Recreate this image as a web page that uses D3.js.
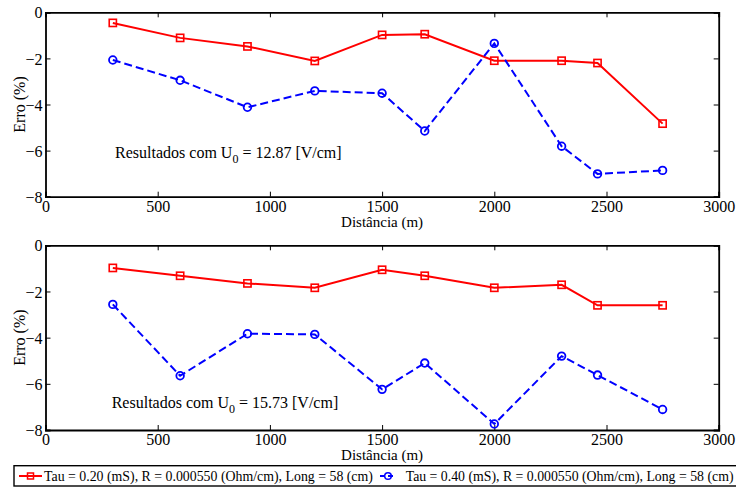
<!DOCTYPE html>
<html>
<head>
<meta charset="utf-8">
<script src="https://cdn.jsdelivr.net/npm/d3@7"></script>
<style>
  html, body { margin: 0; padding: 0; background: #fff; }
  svg, svg text { font-family: "Liberation Serif", "Times New Roman", Times, "DejaVu Serif", serif; }
</style>
</head>
<body>
<svg id="chart" width="736" height="488"></svg>
<script>
// Distances along the line (m)
const distances = [300, 600, 900, 1200, 1500, 1690, 2000, 2300, 2460, 2750];

// Error (%) for U0 = 12.87 V/cm
const errTau020_u1 = [-0.46, -1.11, -1.48, -2.11, -0.98, -0.95, -2.10, -2.10, -2.20, -4.83];
const errTau040_u1 = [-2.07, -2.95, -4.12, -3.41, -3.51, -5.15, -1.35, -5.81, -7.01, -6.86];

// Error (%) for U0 = 15.73 V/cm
const errTau020_u2 = [-0.98, -1.32, -1.65, -1.84, -1.06, -1.32, -1.84, -1.71, -2.60, -2.60];
const errTau040_u2 = [-2.56, -5.65, -3.83, -3.86, -6.24, -5.10, -7.74, -4.80, -5.62, -7.11];

const xTicks = [0, 500, 1000, 1500, 2000, 2500, 3000];
const yTicks = [0, -2, -4, -6, -8];

const panelNotes = ["12.87", "15.73"];
const seriesNames = [
  "Tau = 0.20 (mS), R = 0.000550 (Ohm/cm), Long = 58 (cm)",
  "Tau = 0.40 (mS), R = 0.000550 (Ohm/cm), Long = 58 (cm)"
];

const RED = "#ff0000", BLUE = "#0000ff";
const FONT = "'Liberation Serif', 'Times New Roman', Times, 'DejaVu Serif', serif";
const svg = d3.select("#chart");

const left = 45.5, right = 718.7;
// panel frames; the note anchor is given in data units of each panel
const panels = [
  { top: 12.3, bottom: 196.7, red: errTau020_u1, blue: errTau040_u1, note: panelNotes[0], noteAt: [310, -6.33] },
  { top: 245.3, bottom: 430, red: errTau020_u2, blue: errTau040_u2, note: panelNotes[1], noteAt: [295, -7.06] }
];

const x = d3.scaleLinear().domain([0, 3000]).range([left, right]);

function drawPanel(p) {
  const y = d3.scaleLinear().domain([-8, 0]).range([p.bottom, p.top]);
  const g = svg.append("g").style("font-family", FONT);
  const tickLen = 5;

  // bottom axis (labels) and top axis (inward ticks only)
  const xb = g.append("g").attr("transform", `translate(0,${p.bottom})`)
    .call(d3.axisBottom(x).tickValues(xTicks).tickSize(-tickLen).tickPadding(4).tickFormat(d3.format("d")));
  const xt = g.append("g").attr("transform", `translate(0,${p.top})`)
    .call(d3.axisTop(x).tickValues(xTicks).tickSize(-tickLen).tickFormat(""));
  const yl = g.append("g").attr("transform", `translate(${left},0)`)
    .call(d3.axisLeft(y).tickValues(yTicks).tickSize(-tickLen).tickPadding(3).tickFormat(d3.format("d")));
  const yr = g.append("g").attr("transform", `translate(${right},0)`)
    .call(d3.axisRight(y).tickValues(yTicks).tickSize(-tickLen).tickFormat(""));

  [xb, xt, yl, yr].forEach(a => {
    a.attr("font-family", null);
    a.select(".domain").attr("stroke", "#000").attr("stroke-width", 1.8);
    a.selectAll(".tick line").attr("stroke", "#000").attr("stroke-width", 1);
    a.selectAll(".tick text").attr("fill", "#000")
      .style("font-family", FONT).style("font-size", "16px");
  });
  yl.selectAll(".tick text").attr("dy", "0.35em");

  // axis titles
  g.append("text")
    .attr("x", (left + right) / 2).attr("y", p.bottom + 30)
    .attr("text-anchor", "middle").style("font-size", "15px")
    .text("Distância (m)");
  g.append("text")
    .attr("transform", `translate(24.5,${(p.top + p.bottom) / 2}) rotate(-90)`)
    .attr("text-anchor", "middle").style("font-size", "16px")
    .text("Erro (%)");

  // annotation
  const t = g.append("text")
    .attr("x", x(p.noteAt[0])).attr("y", y(p.noteAt[1])).style("font-size", "16px");
  t.append("tspan").text("Resultados com U");
  t.append("tspan").attr("dy", 5).style("font-size", "12px").text("0");
  t.append("tspan").attr("dy", -5).text(" = " + p.note + " [V/cm]");

  const line = d3.line().x((d, i) => x(distances[i])).y(d => y(d));

  // Tau = 0.20 series: solid red with squares
  g.append("path").datum(p.red).attr("d", line)
    .attr("fill", "none").attr("stroke", RED).attr("stroke-width", 2);
  g.selectAll(".sq").data(p.red).enter().append("rect")
    .attr("x", (d, i) => x(distances[i]) - 3.6).attr("y", d => y(d) - 3.6)
    .attr("width", 7.2).attr("height", 7.2)
    .attr("fill", "none").attr("stroke", RED).attr("stroke-width", 1.6);

  // Tau = 0.40 series: dashed blue with circles
  g.append("path").datum(p.blue).attr("d", line)
    .attr("fill", "none").attr("stroke", BLUE).attr("stroke-width", 2)
    .attr("stroke-dasharray", "8,4");
  g.selectAll(".ci").data(p.blue).enter().append("circle")
    .attr("cx", (d, i) => x(distances[i])).attr("cy", d => y(d)).attr("r", 3.8)
    .attr("fill", "none").attr("stroke", BLUE).attr("stroke-width", 1.8);
}

panels.forEach(drawPanel);

// legend
const lg = svg.append("g").style("font-family", FONT);
lg.append("rect").attr("x", 14).attr("y", 465.7).attr("width", 740).attr("height", 20.3)
  .attr("fill", "#fff").attr("stroke", "#000").attr("stroke-width", 1.4);
const legendY = 476;

lg.append("line").attr("x1", 19).attr("x2", 42).attr("y1", legendY).attr("y2", legendY)
  .attr("stroke", RED).attr("stroke-width", 2);
lg.append("rect").attr("x", 30.5 - 3).attr("y", legendY - 3).attr("width", 6).attr("height", 6)
  .attr("fill", "none").attr("stroke", RED).attr("stroke-width", 1.5);
const t1 = lg.append("text").attr("x", 44).attr("y", legendY + 4.5)
  .style("font-size", "14px").text(seriesNames[0]);

lg.append("line").attr("x1", 380).attr("x2", 396).attr("y1", legendY).attr("y2", legendY)
  .attr("stroke", BLUE).attr("stroke-width", 2).attr("stroke-dasharray", "5,3");
lg.append("circle").attr("cx", 388).attr("cy", legendY).attr("r", 3.3)
  .attr("fill", "none").attr("stroke", BLUE).attr("stroke-width", 1.5);
const t2 = lg.append("text").attr("x", 405.7).attr("y", legendY + 4.5)
  .style("font-size", "14px").text(seriesNames[1]);

// fit legend texts to their slots
[[t1, 329], [t2, 328]].forEach(([t, w]) => {
  const len = t.node().getComputedTextLength();
  t.style("font-size", (14 * w / len).toFixed(2) + "px");
});
</script>
</body>
</html>
